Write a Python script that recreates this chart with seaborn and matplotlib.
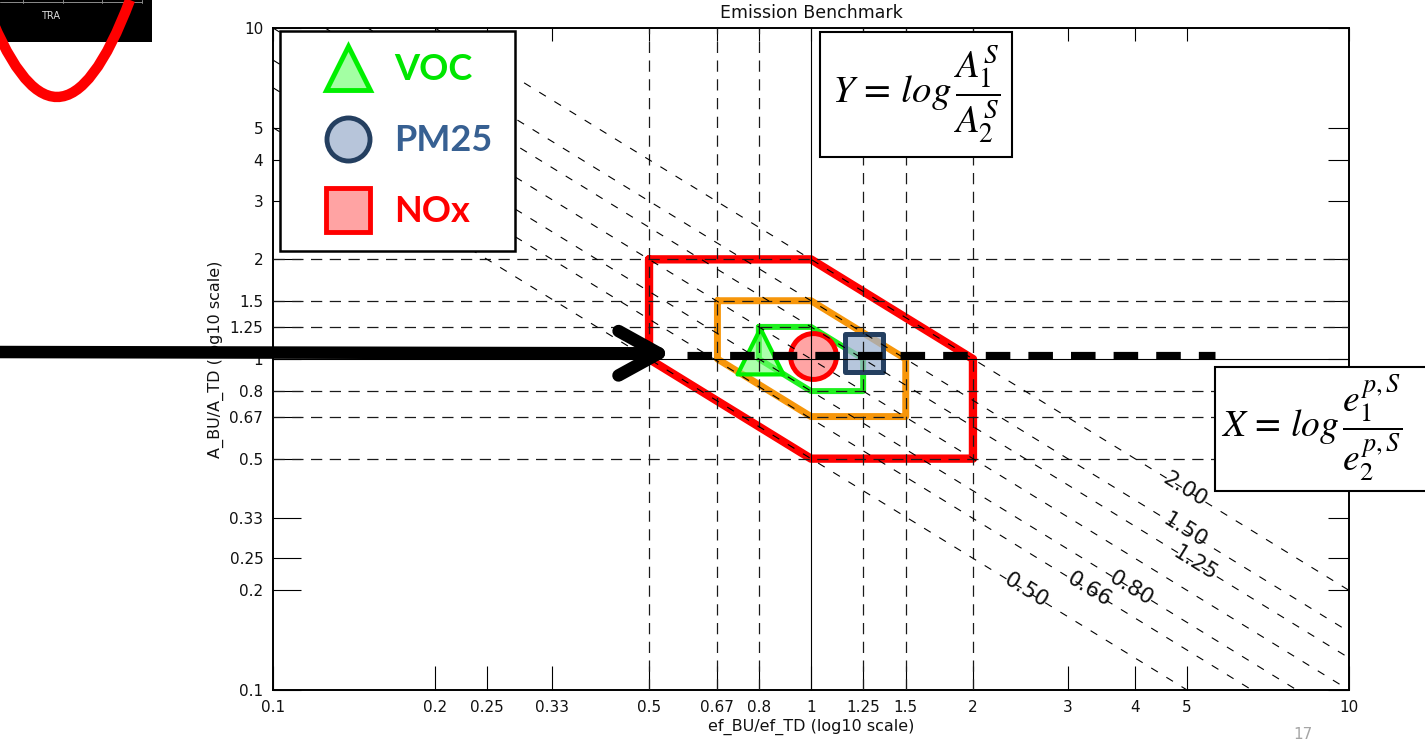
import math
import numpy as np
import pandas as pd
import matplotlib
matplotlib.use("Agg")
import matplotlib.pyplot as plt
import seaborn as sns
from matplotlib.lines import Line2D
from matplotlib.patches import Rectangle, PathPatch
from matplotlib.path import Path
from matplotlib.ticker import FixedLocator, FixedFormatter, NullLocator

# ---------------- data ----------------
tick_values = [0.1, 0.2, 0.25, 0.33, 0.5, 0.67, 0.8, 1, 1.25, 1.5, 2, 3, 4, 5, 10]
tick_labels = ["0.1", "0.2", "0.25", "0.33", "0.5", "0.67", "0.8", "1",
               "1.25", "1.5", "2", "3", "4", "5", "10"]

grid_levels = [0.5, 0.67, 0.8, 1.25, 1.5, 2.0]

# iso-lines of constant product ef_ratio * A_ratio
iso_levels = [0.5, 0.66, 0.8, 1.0, 1.25, 1.5, 2.0]
iso_label_level = [0.5, 0.66, 0.8, 1.25, 1.5, 2.0]
iso_label_text = ["0.50", "0.66", "0.80", "1.25", "1.50", "2.00"]
iso_label_x = [2.51, 3.29, 3.94, 5.19, 4.96, 4.96]

# acceptance bands
band_red_x = [0.5, 1, 2, 2, 1, 0.5, 0.5]
band_red_y = [2, 2, 1, 0.5, 0.5, 1, 2]
band_orange_x = [0.67, 1, 1.5, 1.5, 1, 0.67, 0.67]
band_orange_y = [1.5, 1.5, 1, 0.67, 0.67, 1, 1.5]
band_green_x = [0.8, 1, 1.25, 1.25, 1, 0.8, 0.8]
band_green_y = [1.25, 1.25, 1, 0.8, 0.8, 1, 1.25]

# pollutant points
voc_x, voc_y = [0.804], [1.057]
nox_x, nox_y = [1.01], [1.02]
pm25_x, pm25_y = [1.255], [1.04]

# reference dashed level
ref_x = [0.588, 5.64]
ref_y = [1.028, 1.028]

W, H = 1425, 742


def fx(px):
    return px / W


def fy(py):
    return 1 - py / H


sns.set_theme(style="ticks")
plt.rcParams["font.family"] = ["DejaVu Sans"]
plt.rcParams["mathtext.fontset"] = "stix"

fig = plt.figure(figsize=(W / 100, H / 100), dpi=100)
fig.patch.set_facecolor("white")
ax = fig.add_axes([fx(273), fy(690), 1076 / W, 662 / H])
ax.set_facecolor("white")
ax.set_xscale("log")
ax.set_yscale("log")
ax.set_xlim(0.1, 10)
ax.set_ylim(0.1, 10)

# ---- acceptance bands ----
for bx, by, col, lw in [(band_red_x, band_red_y, "#ff0000", 6.0),
                        (band_orange_x, band_orange_y, "#f7960a", 5.0),
                        (band_green_x, band_green_y, "#1ff01f", 4.3)]:
    sns.lineplot(x=bx, y=by, sort=False, estimator=None, color=col, lw=lw,
                 ax=ax, zorder=2, solid_joinstyle="round",
                 solid_capstyle="round")

# ---- pollutant markers ----
sns.scatterplot(x=voc_x, y=voc_y, marker="^", s=33 ** 2,
                color=(0.45, 1.0, 0.45, 0.6), edgecolor="#00f000",
                linewidth=3.0, ax=ax, zorder=3)
sns.scatterplot(x=nox_x, y=nox_y, marker="o", s=33 ** 2,
                color=(1.0, 0.58, 0.58, 0.85), edgecolor="#ff0000",
                linewidth=3.6, ax=ax, zorder=3)
sns.scatterplot(x=pm25_x, y=pm25_y, marker="s", s=28 ** 2,
                color=(0.62, 0.70, 0.82, 0.75), edgecolor="#243f60",
                linewidth=3.6, ax=ax, zorder=3)

# ---- reference grid ----
for v in grid_levels:
    ax.axvline(v, color="#1a1a1a", lw=0.9, ls=(0, (9, 6)), zorder=4)
    ax.axhline(v, color="#1a1a1a", lw=0.9, ls=(0, (9, 6)), zorder=4)
ax.axvline(1, color="black", lw=0.8, zorder=4)
ax.axhline(1, color="black", lw=0.8, zorder=4)

# ---- iso-product lines ----
rows = []
for c in iso_levels:
    rows.append({"level": c, "x": 0.1, "y": c / 0.1})
    rows.append({"level": c, "x": 10.0, "y": c / 10.0})
iso_df = pd.DataFrame(rows)
sns.lineplot(data=iso_df, x="x", y="y", units="level", estimator=None,
             sort=False, color="black", lw=0.8, linestyle=(0, (7, 9)),
             ax=ax, zorder=4, legend=False)

for c, txt, lx in zip(iso_label_level, iso_label_text, iso_label_x):
    ly = c / lx
    p1 = ax.transData.transform((lx, ly))
    p2 = ax.transData.transform((lx * 1.2, c / (lx * 1.2)))
    ang = math.degrees(math.atan2(p2[1] - p1[1], p2[0] - p1[0]))
    ax.text(lx, ly, txt, rotation=ang, rotation_mode="anchor",
            ha="center", va="center", fontsize=15.5, color="#111111",
            zorder=5)

# ---- thick reference dash ----
ax.plot(ref_x, ref_y, color="black", lw=5.2, ls=(0, (3.4, 2.5)),
        solid_capstyle="butt", dash_capstyle="butt", zorder=6)

# ---- axes styling ----
for ax_ in (ax.xaxis, ax.yaxis):
    ax_.set_major_locator(FixedLocator(tick_values))
    ax_.set_major_formatter(FixedFormatter(tick_labels))
    ax_.set_minor_locator(NullLocator())
ax.tick_params(which="major", direction="in", top=True, right=True,
               length=16, width=0.8, color="black", labelsize=11,
               labelcolor="#111111", pad=7)
for t in ax.xaxis.get_major_ticks():
    t.tick1line.set_markersize(17.3)
    t.tick2line.set_markersize(9.4)
for t in ax.yaxis.get_major_ticks():
    t.tick1line.set_markersize(20.0)
    t.tick2line.set_markersize(15.0)
for s in ax.spines.values():
    s.set_linewidth(1.4)
    s.set_color("black")

ax.set_title("Emission Benchmark", fontsize=12.5, color="#111111", pad=7)
ax.set_xlabel("ef_BU/ef_TD (log10 scale)", fontsize=11.5, color="#111111",
              labelpad=3)
ax.set_ylabel("A_BU/A_TD (log10 scale)", fontsize=11.5, color="#111111",
              labelpad=4)

# ---- legend ----
handles = [
    Line2D([], [], ls="none", marker="^", ms=32, mfc="#a3ffa3",
           mec="#00f000", mew=3.5),
    Line2D([], [], ls="none", marker="o", ms=31, mfc="#b7c5da",
           mec="#243f60", mew=3.5),
    Line2D([], [], ls="none", marker="s", ms=31, mfc="#ffa3a3",
           mec="#ff0000", mew=3.5),
]
leg = ax.legend(handles, ["VOC", "PM25", "NOx"], loc="upper left",
                bbox_to_anchor=(fx(280), fy(31)),
                bbox_transform=fig.transFigure, borderaxespad=0,
                frameon=True, fancybox=False, framealpha=1,
                edgecolor="black", borderpad=0.62, handlelength=2.55,
                handletextpad=0.0, labelspacing=1.05,
                prop={"family": "Lato", "weight": "bold", "size": 26},
                labelcolor=["#00e600", "#376092", "#ff0000"])
leg.get_frame().set_linewidth(1.8)
leg.set_zorder(8)

# ---- arrow into the plot ----
ax.annotate("", xy=(0.551, 1.04), xycoords="data",
            xytext=(fx(-10), fy(352)), textcoords="figure fraction",
            arrowprops=dict(arrowstyle="->,head_length=2.9,head_width=1.6",
                            mutation_scale=10, lw=9, color="black",
                            shrinkA=0, shrinkB=0, capstyle="round",
                            joinstyle="round"),
            annotation_clip=False, zorder=9)

# ---- formula boxes ----
fig.add_artist(Rectangle((fx(820), fy(157)), 192 / W, 125 / H,
                         transform=fig.transFigure, fc="white",
                         ec="black", lw=1.5, zorder=10))
fig.text(fx(916), fy(94),
         r"$Y\,=\,log\,\dfrac{A_{\mathit{1}}^S}{A_{\mathit{2}}^S}$",
         fontsize=28, ha="center", va="center", color="black", zorder=11)

fig.add_artist(Rectangle((fx(1215), fy(491)), 240 / W, 124 / H,
                         transform=fig.transFigure, fc="white",
                         ec="black", lw=1.5, zorder=10))
fig.text(fx(1221), fy(428),
         r"$X\,=\,log\,\dfrac{e_{\mathit{1}}^{p,S}}{e_{\mathit{2}}^{p,S}}$",
         fontsize=27, ha="left", va="center", color="black", zorder=11)

# ---- slide corner element ----
fig.add_artist(Rectangle((0, fy(42)), 152 / W, 42 / H,
                         transform=fig.transFigure, fc="black", ec="none",
                         zorder=12))
fig.add_artist(Line2D([0, fx(142)], [fy(1.5), fy(1.5)],
                      transform=fig.transFigure, color="#8c8c8c", lw=0.7,
                      zorder=13))
for gx in [23, 63, 102, 142]:
    fig.add_artist(Line2D([fx(gx), fx(gx)], [fy(0), fy(3)],
                          transform=fig.transFigure, color="#8c8c8c",
                          lw=0.7, zorder=13))
fig.text(fx(51), fy(16), "TRA", color="#dcdcdc", fontsize=7,
         ha="center", va="center", zorder=13)
curve = Path([(fx(-16), fy(0)), (fx(57), fy(194)), (fx(130), fy(0))],
             [Path.MOVETO, Path.CURVE3, Path.CURVE3])
fig.add_artist(PathPatch(curve, transform=fig.transFigure, fill=False,
                         ec="#ff0000", lw=7.5, zorder=14))

fig.text(fx(1303), fy(727), "17", color="#a6a6a6", fontsize=11,
         ha="center", va="top")

fig.savefig("out.png", dpi=100)
